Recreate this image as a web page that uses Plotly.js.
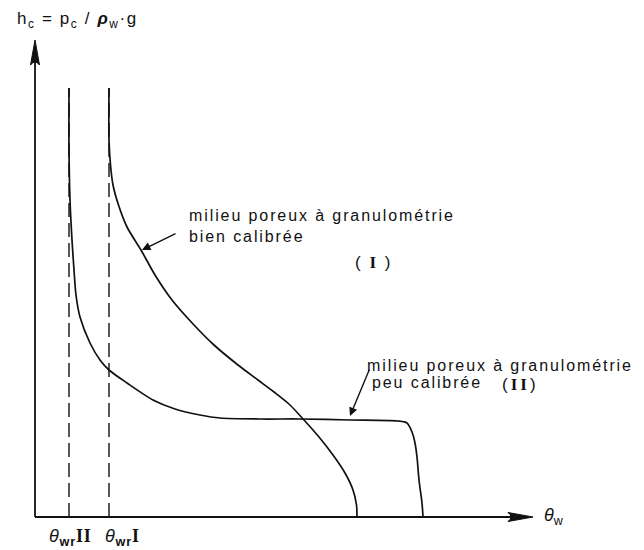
<!DOCTYPE html>
<html>
<head>
<meta charset="utf-8">
<script src="https://cdn.plot.ly/plotly-3.0.1.min.js"></script>
<style>html,body{margin:0;padding:0;background:#fff;}</style>
</head>
<body>
<div id="chart" style="width:644px;height:550px;"></div>
<script>
// Curve I : well-graded (bien calibrée) porous medium, theta_w vs h_c (arbitrary units)
const curveI_theta = [74,74,75.5,78,83.5,92,106,120,137,159,179,203,223,239,255,269,284,298,310,318,321.5,322];
const curveI_h     = [429,377,352,332,312,290,267,242,217,192,172,152,137,125,112,97,80,62,44,27,12,0];
// Curve II : poorly graded (peu calibrée) porous medium
const curveII_theta = [34,34,35,37,39,41,45,55,65,74,92,118,140,165,185,225,265,315,363,372,377,380,382,384,387,388];
const curveII_h     = [429,367,317,277,247,222,200,174,157,147,134,117,108,102,99,98,98,97,96,94,85,74,60,37,14,0];
// residual water contents (dashed verticals)
const residualTheta = [34, 74];
const residualTop = 429;

const black = '#111';
const traces = [
  {x: curveI_theta, y: curveI_h, mode: 'lines', line: {color: black, width: 1.7, shape: 'spline', smoothing: 0.8}, hoverinfo: 'skip'},
  {x: curveII_theta, y: curveII_h, mode: 'lines', line: {color: black, width: 1.7, shape: 'spline', smoothing: 0.8}, hoverinfo: 'skip'}
];
residualTheta.forEach(t => traces.push({
  x: [t, t], y: [0, residualTop], mode: 'lines',
  line: {color: black, width: 1.4, dash: '14px,6px'}, hoverinfo: 'skip'
}));

const font = {family: 'Liberation Sans, Arial, sans-serif', size: 16, color: black};
const sp = (s, ls) => '<span style="letter-spacing:' + (ls || 1.9) + 'px">' + s + '</span>';
const serif = s => '<span style="font-family:Liberation Serif;font-weight:bold">' + s + '</span>';

const annotations = [
  {x: -20, y: 497, text: sp('h<sub>c</sub> = p<sub>c</sub> / <b><i>ρ</i></b><sub>w</sub>·g', 1.6), xanchor: 'left', yanchor: 'middle', font: {...font, size: 17}},
  {x: 507, y: 1, text: '<i>θ</i><sub>w</sub>', xanchor: 'left', yanchor: 'middle', font: {...font, size: 18}},
  {x: 12, y: -20, text: sp('<i>θ</i><sub><b>wr</b></sub>' + serif('II'), 0.8), xanchor: 'left', yanchor: 'middle', font: {...font, size: 18}},
  {x: 68, y: -20, text: sp('<i>θ</i><sub><b>wr</b></sub>' + serif('I'), 0.8), xanchor: 'left', yanchor: 'middle', font: {...font, size: 18}},
  {x: 152, y: 302, text: sp('milieu poreux à granulométrie'), xanchor: 'left', yanchor: 'middle', font: font},
  {x: 152, y: 281, text: sp('bien calibrée'), xanchor: 'left', yanchor: 'middle', font: font},
  {x: 338, y: 255, text: sp('( ' + serif('I') + ' )', 2), xanchor: 'center', yanchor: 'middle', font: {...font, size: 17}},
  {x: 330, y: 152, text: sp('milieu poreux à granulométrie'), xanchor: 'left', yanchor: 'middle', font: font},
  {x: 335, y: 135, text: sp('peu calibrée'), xanchor: 'left', yanchor: 'middle', font: font},
  {x: 485, y: 133, text: sp('(' + serif('II') + ')', 3), xanchor: 'center', yanchor: 'middle', font: {...font, size: 17}},
  // pointer arrows
  {x: 107, y: 267, ax: 142, ay: 284, axref: 'x', ayref: 'y', text: '', showarrow: true, arrowhead: 2, arrowsize: 1.2, arrowwidth: 1.4, arrowcolor: black},
  {x: 315, y: 101, ax: 335, ay: 149, axref: 'x', ayref: 'y', text: '', showarrow: true, arrowhead: 2, arrowsize: 1.2, arrowwidth: 1.4, arrowcolor: black}
].map(a => Object.assign({xref: 'x', yref: 'y', showarrow: false}, a));

const shapes = [
  // axes
  {type: 'line', x0: 0, y0: 0, x1: 0, y1: 455, line: {color: black, width: 1.8}},
  {type: 'line', x0: 0, y0: 0, x1: 476, y1: 0, line: {color: black, width: 1.8}},
  // arrow heads
  {type: 'path', path: 'M -4.5 452 Q 0 458 4.5 452 L 0 477 Z', fillcolor: black, line: {color: black, width: 1}},
  {type: 'path', path: 'M 473 4.5 Q 479 0 473 -4.5 L 498 0 Z', fillcolor: black, line: {color: black, width: 1}}
].map(s => Object.assign({xref: 'x', yref: 'y'}, s));

const layout = {
  width: 644, height: 550,
  margin: {l: 0, r: 0, t: 0, b: 0},
  paper_bgcolor: '#fff', plot_bgcolor: '#fff',
  showlegend: false,
  xaxis: {range: [-35, 609], visible: false, fixedrange: true},
  yaxis: {range: [-33, 517], visible: false, fixedrange: true},
  annotations: annotations,
  shapes: shapes
};
Plotly.newPlot('chart', traces, layout, {staticPlot: true, displayModeBar: false});
</script>
</body>
</html>
